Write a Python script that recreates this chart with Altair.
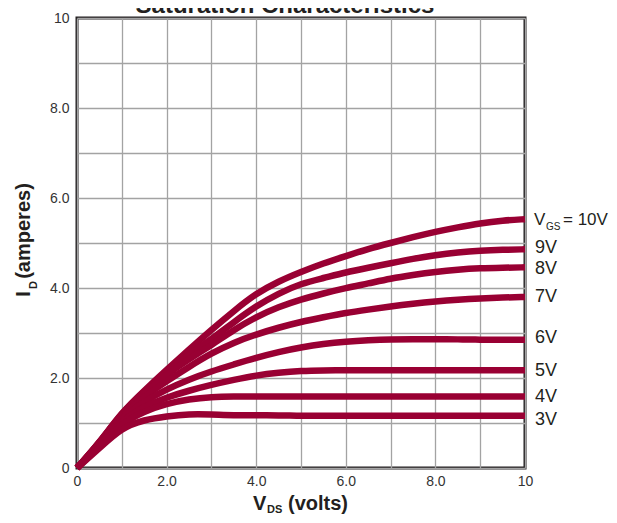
import altair as alt
import pandas as pd

# ---- data ----
vds = [0, 0.5, 1, 1.5, 2, 2.5, 3, 3.5, 4, 4.5, 5, 5.5, 6, 6.5, 7, 7.5, 8, 8.5, 9, 9.5, 10]

id_10v = [0, 0.56, 1.24, 1.72, 2.18, 2.63, 3.07, 3.49, 3.88, 4.15, 4.36, 4.55, 4.71, 4.87, 5.00, 5.13, 5.25, 5.35, 5.44, 5.50, 5.53]
id_9v = [0, 0.56, 1.23, 1.70, 2.14, 2.52, 2.86, 3.24, 3.60, 3.88, 4.10, 4.22, 4.35, 4.45, 4.55, 4.65, 4.73, 4.79, 4.83, 4.85, 4.86]
id_8v = [0, 0.55, 1.21, 1.67, 2.08, 2.42, 2.73, 3.07, 3.36, 3.58, 3.75, 3.88, 4.00, 4.10, 4.21, 4.29, 4.36, 4.41, 4.44, 4.45, 4.46]
id_7v = [0, 0.54, 1.17, 1.59, 1.93, 2.25, 2.55, 2.79, 2.97, 3.12, 3.25, 3.35, 3.45, 3.52, 3.59, 3.65, 3.70, 3.74, 3.77, 3.79, 3.80]
id_6v = [0, 0.52, 1.12, 1.48, 1.75, 1.97, 2.15, 2.30, 2.45, 2.58, 2.68, 2.76, 2.81, 2.84, 2.86, 2.86, 2.86, 2.86, 2.85, 2.85, 2.85]
id_5v = [0, 0.50, 1.06, 1.37, 1.57, 1.72, 1.85, 1.96, 2.06, 2.12, 2.16, 2.17, 2.17, 2.17, 2.17, 2.17, 2.17, 2.17, 2.17, 2.17, 2.17]
id_4v = [0, 0.47, 0.99, 1.26, 1.43, 1.53, 1.58, 1.59, 1.59, 1.59, 1.59, 1.59, 1.59, 1.59, 1.59, 1.59, 1.59, 1.59, 1.59, 1.59, 1.59]
id_3v = [0, 0.44, 0.90, 1.07, 1.15, 1.20, 1.19, 1.17, 1.17, 1.17, 1.16, 1.16, 1.16, 1.16, 1.16, 1.16, 1.16, 1.16, 1.16, 1.16, 1.16]

series_names = ["10V", "9V", "8V", "7V", "6V", "5V", "4V", "3V"]
series_values = [id_10v, id_9v, id_8v, id_7v, id_6v, id_5v, id_4v, id_3v]

# right-hand labels (text and vertical position in amperes)
label_texts = ["9V", "8V", "7V", "6V", "5V", "4V", "3V"]
label_y = [4.88, 4.42, 3.79, 2.88, 2.16, 1.58, 1.07]
top_label_y = 5.51

axis_ticks = [0, 1, 2, 3, 4, 5, 6, 7, 8, 9, 10]

title_text = "Saturation Characteristics"

# ---- build tables ----
rows = []
for name, ys in zip(series_names, series_values):
    for x, y in zip(vds, ys):
        rows.append({"vgs": name, "vds": x, "id": y})
df = pd.DataFrame(rows)

lab_df = pd.DataFrame({"label": label_texts, "ly": label_y, "lx": [vds[-1]] * len(label_texts)})
top_df = pd.DataFrame({"lx": [vds[-1]], "ly": [top_label_y]})

W, H = 448, 450
FONT = "Liberation Sans"
LINE_COLOR = "#990033"
TEXT_COLOR = "#231f20"

label_expr = ("datum.value == 0 ? '0' : datum.value == 10 ? '10' : "
              "(datum.value % 2 == 0 ? format(datum.value, '.1f') : '')")

common_axis = dict(
    values=axis_ticks, labelExpr=label_expr, title=None, ticks=False, domain=False,
    grid=True, gridColor="#a3a3a3", gridWidth=1.3, labelFont=FONT, labelFontSize=14,
    labelColor="#333333", labelFlush=False,
)

xs = alt.Scale(domain=[0, 10], nice=False)
ys = alt.Scale(domain=[0, 10], nice=False)

lines = alt.Chart(df).mark_line(
    strokeWidth=6.5, color=LINE_COLOR, interpolate="basis", strokeCap="butt"
).encode(
    x=alt.X("vds:Q", scale=xs, axis=alt.Axis(labelPadding=6, **common_axis)),
    y=alt.Y("id:Q", scale=ys, axis=alt.Axis(labelPadding=8, **common_axis)),
    detail="vgs:N",
)

labels = alt.Chart(lab_df).mark_text(
    align="left", baseline="middle", dx=10, fontSize=18, font=FONT, color=TEXT_COLOR
).encode(x=alt.X("lx:Q", scale=xs), y=alt.Y("ly:Q", scale=ys), text="label:N")

top_v = alt.Chart(top_df).mark_text(
    align="left", baseline="middle", dx=9, fontSize=17, font=FONT, color=TEXT_COLOR, text="V"
).encode(x=alt.X("lx:Q", scale=xs), y=alt.Y("ly:Q", scale=ys))
top_gs = alt.Chart(top_df).mark_text(
    align="left", baseline="middle", dx=21, dy=7, fontSize=10, font=FONT, color=TEXT_COLOR, text="GS"
).encode(x=alt.X("lx:Q", scale=xs), y=alt.Y("ly:Q", scale=ys))
top_rest = alt.Chart(top_df).mark_text(
    align="left", baseline="middle", dx=38, fontSize=17, font=FONT, color=TEXT_COLOR, text="= 10V"
).encode(x=alt.X("lx:Q", scale=xs), y=alt.Y("ly:Q", scale=ys))


def txt(text, x, y, size, weight="bold", align="left", baseline="alphabetic", angle=0):
    kw = dict(text=text, fontSize=size, fontWeight=weight, font=FONT, color=TEXT_COLOR,
              align=align, baseline=baseline)
    if angle:
        kw["angle"] = angle
    return alt.Chart(top_df).mark_text(**kw).encode(x=alt.value(x), y=alt.value(y))


title = txt(title_text, 208, -5, 24, align="center")
xt_v = txt("V", 176, 492, 20)
xt_ds = txt("DS", 190, 495, 11)
xt_rest = txt("(volts)", 211, 492, 20)
yt_i = txt("I", -47, 276, 20, align="center", angle=270)
yt_d = txt("D", -40, 267, 11, align="center", angle=270)
yt_rest = txt("(amperes)", -47, 213, 20, align="center", angle=270)

chart = alt.layer(
    lines, labels, top_v, top_gs, top_rest,
    title, xt_v, xt_ds, xt_rest, yt_i, yt_d, yt_rest,
).properties(
    width=W, height=H,
    autosize=alt.AutoSizeParams(type="none"),
    padding={"left": 69, "top": 10, "right": 84, "bottom": 46},
).configure_view(
    stroke="#231f20", strokeWidth=3
)

chart.save("out.html", embed_options={"renderer": "svg", "actions": False})
